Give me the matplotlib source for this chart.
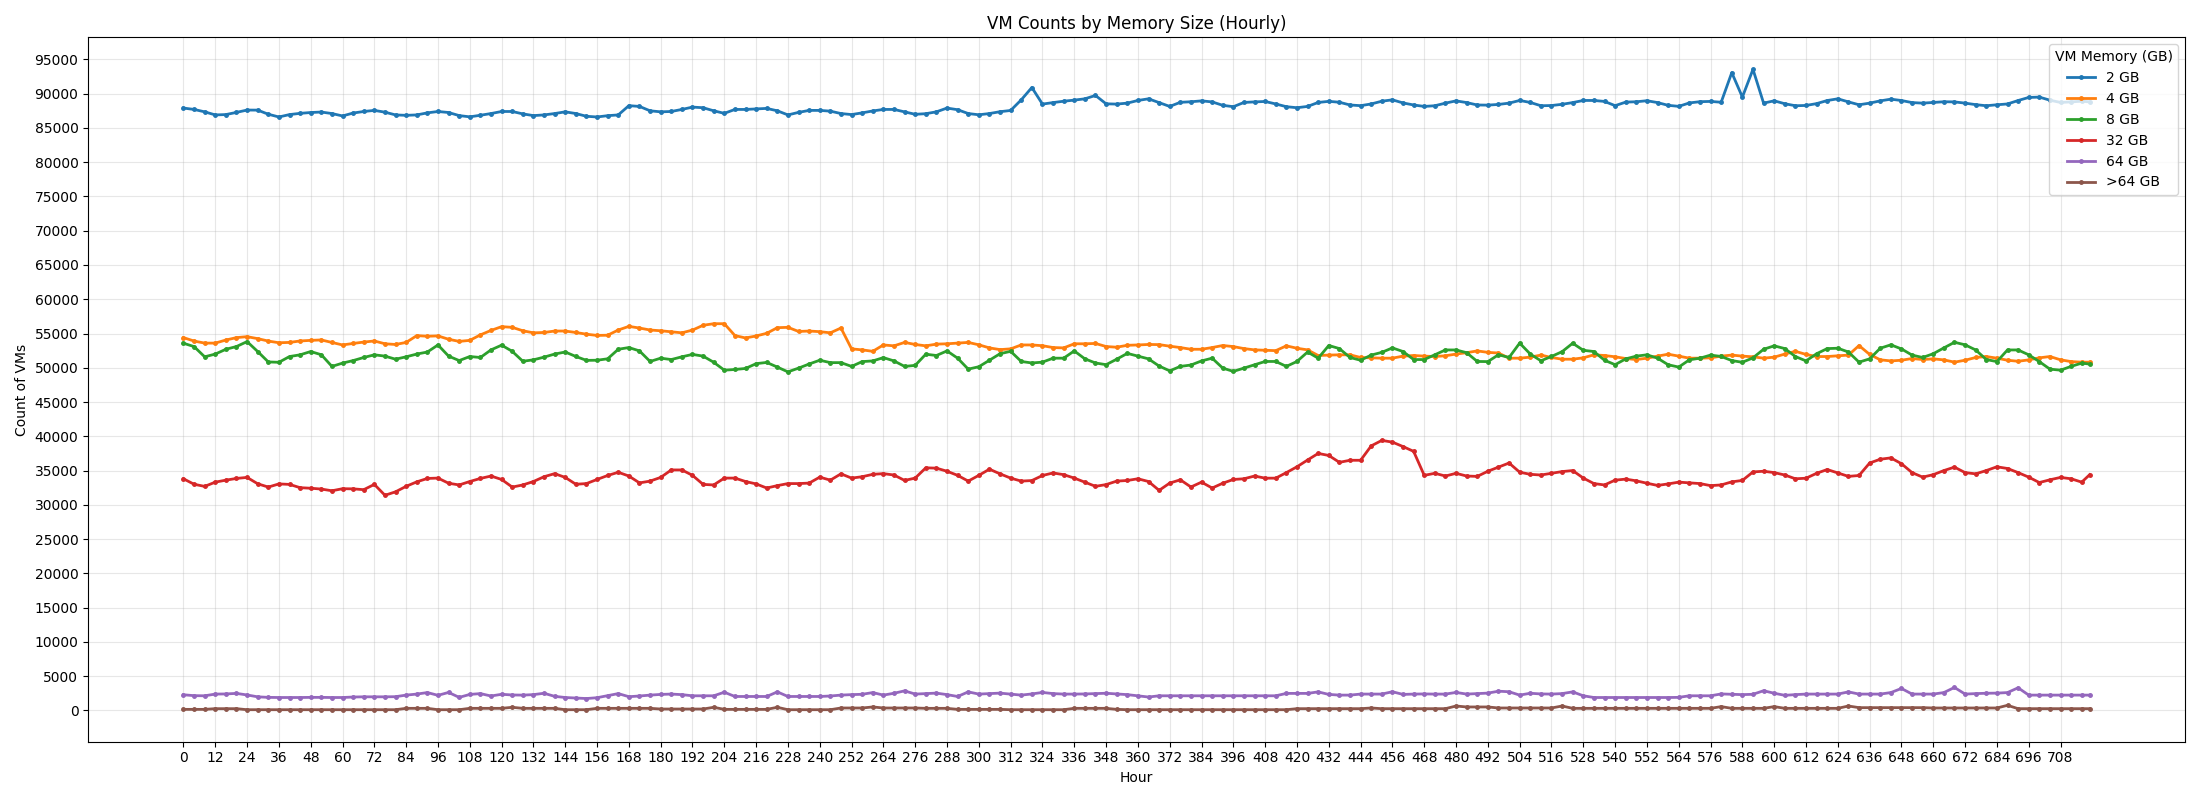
import matplotlib
matplotlib.use("Agg")
import matplotlib.pyplot as plt
import numpy as np

# hours sampled every 4h, plus the last hour
HOURS = list(range(0, 720, 4)) + [719]

MEMORY_LABELS = ["2 GB", "4 GB", "8 GB", "32 GB", "64 GB", ">64 GB"]

GB2 = [
    87900, 87700, 87350, 86900, 86950, 87270, 87610, 87600, 87000, 86600,
    86950, 87130, 87250, 87320, 87100, 86750, 87175, 87400, 87560, 87300,
    86900, 86840, 86900, 87200, 87400, 87250, 86800, 86620, 86850, 87100,
    87400, 87400, 87050, 86800, 86900, 87100, 87350, 87100, 86700, 86600,
    86790, 86900, 88250, 88140, 87500, 87350, 87400, 87700, 88040, 87950,
    87500, 87130, 87700, 87700, 87780, 87850, 87500, 86900, 87270, 87560,
    87560, 87450, 87100, 86950, 87200, 87480, 87700, 87700, 87350, 86990,
    87080, 87350, 87900, 87660, 87100, 86920, 87100, 87370, 87550, 89100,
    90900, 88480, 88700, 88900, 89060, 89250, 89740, 88520, 88480, 88620,
    89010, 89250, 88700, 88140, 88740, 88820, 88950, 88800, 88300, 88100,
    88720, 88800, 88860, 88500, 88100, 87950, 88140, 88720, 88880, 88750,
    88350, 88250, 88500, 88900, 89100, 88650, 88350, 88140, 88240, 88620,
    88950, 88700, 88350, 88330, 88430, 88620, 89010, 88720, 88240, 88270,
    88450, 88700, 89010, 89010, 88870, 88250, 88770, 88820, 88970, 88700,
    88300, 88150, 88650, 88830, 88870, 88750, 93070, 89500, 93550, 88620,
    88960, 88530, 88240, 88280, 88550, 89000, 89250, 88800, 88380, 88620,
    88950, 89200, 89000, 88700, 88620, 88720, 88820, 88800, 88620, 88400,
    88240, 88380, 88500, 89000, 89450, 89500, 89050, 88720, 88800, 88900,
    88800,
]

GB4 = [
    54400, 53900, 53600, 53600, 54050, 54400, 54540, 54250, 53900, 53650,
    53700, 53910, 54000, 54060, 53700, 53330, 53550, 53750, 53910, 53500,
    53400, 53700, 54690, 54600, 54650, 54160, 53850, 54000, 54800, 55450,
    56000, 55900, 55400, 55100, 55150, 55360, 55360, 55150, 54900, 54720,
    54750, 55510, 56040, 55800, 55510, 55400, 55250, 55100, 55500, 56200,
    56430, 56430, 54700, 54350, 54640, 55030, 55850, 55900, 55300, 55360,
    55270, 55100, 55800, 52760, 52610, 52400, 53330, 53200, 53700, 53400,
    53200, 53450, 53500, 53600, 53700, 53350, 52900, 52650, 52760, 53330,
    53330, 53220, 52950, 52900, 53500, 53500, 53550, 53100, 53000, 53280,
    53330, 53400, 53380, 53150, 52950, 52700, 52700, 52950, 53250, 53090,
    52800, 52610, 52550, 52500, 53200, 52850, 52610, 51790, 51850, 51890,
    51890, 51500, 51450, 51400, 51400, 51700, 51790, 51700, 51640, 51750,
    52000, 52200, 52460, 52250, 52150, 51400, 51400, 51550, 51850, 51500,
    51250, 51250, 51450, 51890, 51790, 51600, 51350, 51200, 51400, 51700,
    51980, 51700, 51400, 51400, 51450, 51700, 51850, 51700, 51600, 51400,
    51550, 52000, 52400, 51950, 51640, 51640, 51750, 51850, 53240, 51950,
    51160, 51000, 51100, 51350, 51200, 51300, 51150, 50820, 51100, 51500,
    51640, 51400, 51100, 50950, 51150, 51450, 51640, 51160, 50900, 50820,
    50820,
]

GB8 = [
    53580, 53090, 51600, 52000, 52700, 53100, 53820, 52370, 50850, 50800,
    51640, 51890, 52370, 51900, 50200, 50680, 51050, 51500, 51890, 51700,
    51250, 51600, 52000, 52300, 53330, 51700, 51050, 51640, 51500, 52610,
    53300, 52400, 50950, 51160, 51550, 52000, 52300, 51650, 51080, 51100,
    51310, 52700, 52950, 52460, 50920, 51400, 51200, 51600, 51950, 51700,
    50800, 49650, 49750, 49900, 50600, 50780, 50100, 49400, 49950, 50550,
    51100, 50750, 50750, 50200, 50900, 51000, 51480, 51000, 50200, 50350,
    51980, 51790, 52460, 51400, 49800, 50150, 51100, 52050, 52400, 50920,
    50700, 50820, 51400, 51400, 52460, 51300, 50700, 50450, 51250, 52100,
    51700, 51300, 50250, 49550, 50200, 50400, 51000, 51400, 49950, 49470,
    49950, 50440, 50920, 50920, 50200, 50920, 52300, 51400, 53250, 52800,
    51500, 51100, 51850, 52250, 52900, 52370, 51200, 51200, 51900, 52600,
    52600, 52200, 50920, 50900, 51900, 51500, 53600, 52000, 51020, 51650,
    52350, 53580, 52550, 52370, 51100, 50450, 51300, 51700, 51890, 51400,
    50440, 50100, 51160, 51400, 51850, 51650, 51050, 50800, 51450, 52700,
    53200, 52800, 51640, 51000, 52050, 52800, 52850, 52300, 50820, 51300,
    52850, 53350, 52750, 51850, 51500, 52050, 52900, 53720, 53350, 52600,
    51200, 50900, 52600, 52600, 51890, 50900, 49800, 49650, 50200, 50680,
    50540,
]

GB32 = [
    33800, 33000, 32690, 33310, 33600, 33850, 34000, 33070, 32590, 33050,
    32980, 32500, 32420, 32300, 32050, 32350, 32330, 32210, 32980, 31390,
    31900, 32700, 33350, 33850, 33900, 33150, 32900, 33400, 33850, 34200,
    33700, 32590, 32900, 33400, 34100, 34550, 34000, 33000, 33100, 33700,
    34280, 34750, 34200, 33200, 33460, 34000, 35090, 35090, 34300, 32980,
    32900, 33900, 33900, 33400, 33050, 32450, 32800, 33100, 33100, 33170,
    34040, 33600, 34520, 33900, 34100, 34450, 34550, 34350, 33560, 33900,
    35400, 35350, 34900, 34300, 33460, 34300, 35200, 34520, 33900, 33460,
    33540, 34280, 34650, 34400, 33900, 33300, 32700, 32950, 33460, 33550,
    33800, 33400, 32110, 33170, 33650, 32600, 33310, 32450, 33150, 33700,
    33800, 34200, 33890, 33890, 34700, 35550, 36540, 37500, 37200, 36200,
    36500, 36500, 38600, 39400, 39150, 38500, 37800, 34300, 34600, 34200,
    34600, 34200, 34150, 34900, 35500, 36100, 34760, 34450, 34350, 34600,
    34850, 35000, 33900, 33100, 32900, 33600, 33750, 33500, 33150, 32830,
    33050, 33310, 33200, 33100, 32800, 32900, 33350, 33560, 34800, 34900,
    34700, 34350, 33800, 33880, 34600, 35150, 34650, 34150, 34280, 36100,
    36650, 36850, 36000, 34700, 34040, 34400, 35000, 35500, 34700, 34520,
    35000, 35550, 35300, 34700, 34040, 33250, 33650, 34000, 33800, 33310,
    34400,
]

GB64 = [
    2280, 2150, 2130, 2380, 2400, 2480, 2250, 1980, 1900, 1880,
    1880, 1880, 1900, 1900, 1880, 1880, 1950, 1980, 1980, 1980,
    2000, 2230, 2380, 2600, 2200, 2620, 1900, 2330, 2450, 2100,
    2350, 2250, 2230, 2300, 2500, 2050, 1880, 1800, 1730, 1850,
    2150, 2450, 2000, 2100, 2230, 2330, 2380, 2300, 2130, 2130,
    2130, 2650, 2030, 2030, 2030, 2030, 2700, 2030, 2030, 2030,
    2030, 2100, 2230, 2300, 2350, 2600, 2230, 2500, 2850, 2380,
    2450, 2520, 2300, 2030, 2700, 2380, 2450, 2520, 2380, 2230,
    2400, 2620, 2450, 2380, 2380, 2400, 2450, 2500, 2400, 2300,
    2130, 1950, 2130, 2130, 2130, 2130, 2130, 2130, 2130, 2130,
    2130, 2130, 2130, 2130, 2480, 2480, 2480, 2700, 2330, 2230,
    2230, 2380, 2380, 2380, 2720, 2330, 2380, 2400, 2380, 2380,
    2620, 2380, 2450, 2520, 2800, 2720, 2230, 2500, 2400, 2380,
    2450, 2700, 2130, 1880, 1880, 1880, 1880, 1880, 1880, 1880,
    1880, 1900, 2130, 2130, 2130, 2400, 2350, 2300, 2350, 2870,
    2500, 2200, 2300, 2380, 2380, 2380, 2380, 2700, 2380, 2380,
    2380, 2600, 3200, 2380, 2380, 2380, 2600, 3350, 2380, 2450,
    2500, 2520, 2600, 3300, 2230, 2230, 2230, 2230, 2230, 2230,
    2230,
]

GB_OVER64 = [
    150, 150, 150, 250, 250, 250, 100, 100, 100, 100,
    100, 100, 100, 100, 100, 100, 100, 100, 100, 100,
    100, 300, 300, 300, 100, 100, 100, 300, 300, 300,
    300, 450, 300, 300, 300, 300, 100, 100, 100, 300,
    300, 300, 300, 300, 300, 200, 200, 200, 200, 200,
    450, 150, 150, 150, 150, 150, 450, 100, 100, 100,
    100, 100, 350, 350, 350, 500, 350, 350, 350, 350,
    300, 300, 300, 150, 150, 150, 150, 150, 100, 100,
    100, 100, 100, 100, 300, 300, 300, 300, 150, 100,
    100, 100, 100, 100, 100, 100, 100, 100, 100, 100,
    100, 100, 100, 100, 100, 250, 250, 250, 250, 250,
    250, 250, 350, 250, 250, 250, 250, 250, 250, 250,
    640, 500, 500, 500, 350, 350, 350, 350, 350, 350,
    640, 300, 300, 300, 300, 300, 300, 300, 300, 300,
    300, 300, 300, 300, 300, 550, 300, 300, 300, 300,
    550, 300, 300, 300, 300, 300, 300, 640, 400, 400,
    400, 400, 400, 400, 400, 350, 350, 350, 350, 350,
    350, 350, 740, 250, 250, 250, 250, 250, 250, 250,
    250,
]

series = [GB2, GB4, GB8, GB32, GB64, GB_OVER64]

fig, ax = plt.subplots(figsize=(22, 8), dpi=100)

for values, label in zip(series, MEMORY_LABELS):
    ax.plot(HOURS, values, marker="o", markersize=2.5, linewidth=2, label=label)

ax.set_title("VM Counts by Memory Size (Hourly)")
ax.set_xlabel("Hour")
ax.set_ylabel("Count of VMs")
ax.set_xticks(np.arange(0, 720, 12))
ax.set_yticks(np.arange(0, 100000, 5000))
ax.grid(True, alpha=0.3)
ax.legend(title="VM Memory (GB)", loc="upper right")

fig.tight_layout()
fig.savefig("out.png")
